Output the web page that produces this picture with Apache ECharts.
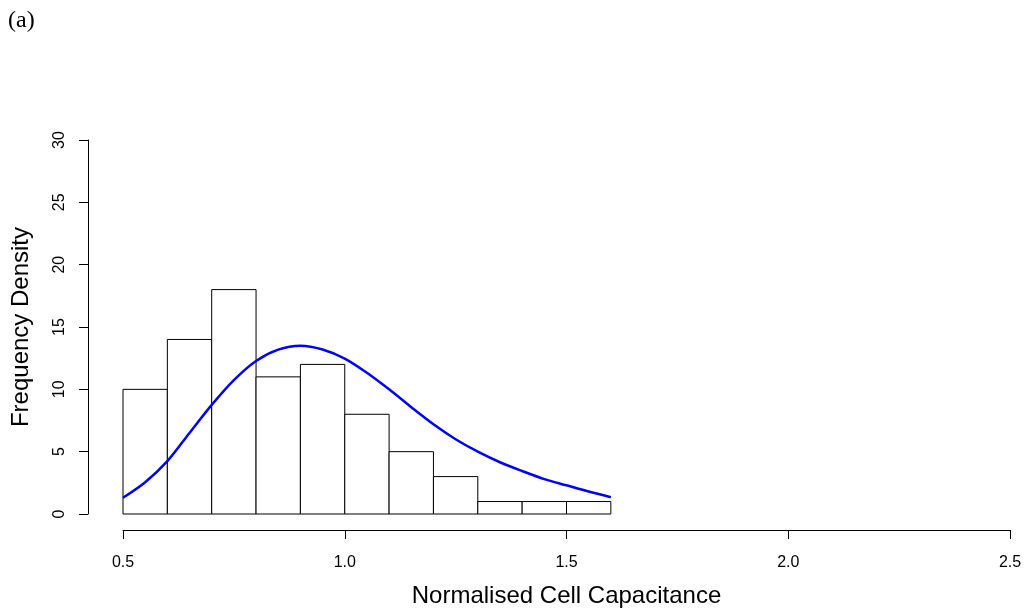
<!DOCTYPE html>
<html>
<head>
<meta charset="utf-8">
<script src="https://cdn.jsdelivr.net/npm/echarts@6/dist/echarts.min.js"></script>
<style>
html,body{margin:0;padding:0;background:#fff;}
#chart{width:1026px;height:613px;}
</style>
</head>
<body>
<div id="chart"></div>
<script>
// Histogram bins (edges) and frequency densities
const binEdges = [0.5, 0.6, 0.7, 0.8, 0.9, 1.0, 1.1, 1.2, 1.3, 1.4, 1.5, 1.6];
const densities = [10, 14, 18, 11, 12, 8, 5, 3, 1, 1, 1];
// Fitted curve
const curveX = [0.5, 0.55, 0.6, 0.65, 0.7, 0.75, 0.8, 0.85, 0.9, 0.95, 1.0, 1.05, 1.1, 1.15, 1.2, 1.25, 1.3, 1.35, 1.4, 1.45, 1.5, 1.55, 1.6];
const curveY = [1.3, 2.55, 4.24, 6.5, 8.75, 10.74, 12.28, 13.18, 13.5, 13.2, 12.47, 11.33, 10.0, 8.57, 7.2, 6.0, 5.0, 4.15, 3.45, 2.8, 2.3, 1.8, 1.35];
const xTicks = [0.5, 1.0, 1.5, 2.0, 2.5];
const yTicks = [0, 5, 10, 15, 20, 25, 30];

const barData = densities.map((v, i) => [binEdges[i], binEdges[i + 1], v]);
const lineData = curveX.map((x, i) => [x, curveY[i]]);

const chart = echarts.init(document.getElementById('chart'), null, {renderer: 'canvas'});
const font = 'Liberation Sans, Arial, Helvetica, sans-serif';
chart.setOption({
  animation: false,
  backgroundColor: '#ffffff',
  grid: {left: 123, right: 16, top: 140, bottom: 97, containLabel: false},
  graphic: [{
    type: 'text', left: 8, top: 9,
    style: {text: '(a)', font: '24px "Liberation Serif", "DejaVu Serif", serif', fill: '#000'}
  }],
  xAxis: {
    type: 'value', min: 0.5, max: 2.5, interval: 0.5,
    offset: 16,
    name: 'Normalised Cell Capacitance', nameLocation: 'middle', nameGap: 54,
    nameTextStyle: {fontFamily: font, fontSize: 24, color: '#000'},
    axisLine: {show: true, onZero: false, lineStyle: {color: '#000', width: 1}},
    axisTick: {show: true, length: 9, lineStyle: {color: '#000'}},
    axisLabel: {margin: 25, fontFamily: font, fontSize: 16, color: '#000',
      formatter: v => xTicks.includes(+v.toFixed(1)) ? v.toFixed(1) : ''},
    splitLine: {show: false}
  },
  yAxis: {
    type: 'value', min: 0, max: 30, interval: 5,
    offset: 35,
    name: 'Frequency Density', nameLocation: 'middle', nameGap: 55,
    nameTextStyle: {fontFamily: font, fontSize: 24, color: '#000'},
    axisLine: {show: true, onZero: false, lineStyle: {color: '#000', width: 1}},
    axisTick: {show: true, length: 9, lineStyle: {color: '#000'}},
    axisLabel: {margin: 20, rotate: 90, fontFamily: font, fontSize: 16, color: '#000',
      formatter: v => yTicks.includes(v) ? String(v) : ''},
    splitLine: {show: false}
  },
  series: [{
    type: 'custom',
    data: barData,
    renderItem: function (params, api) {
      const p0 = api.coord([api.value(0), api.value(2)]);
      const p1 = api.coord([api.value(1), 0]);
      return {
        type: 'rect',
        shape: {x: p0[0], y: p0[1], width: p1[0] - p0[0], height: p1[1] - p0[1]},
        style: {fill: '#fff', stroke: '#000', lineWidth: 1}
      };
    },
    z: 2
  }, {
    type: 'line',
    data: lineData,
    smooth: 0.3,
    showSymbol: false,
    lineStyle: {color: '#0000ff', width: 2.5},
    z: 3
  }]
});
</script>
</body>
</html>
